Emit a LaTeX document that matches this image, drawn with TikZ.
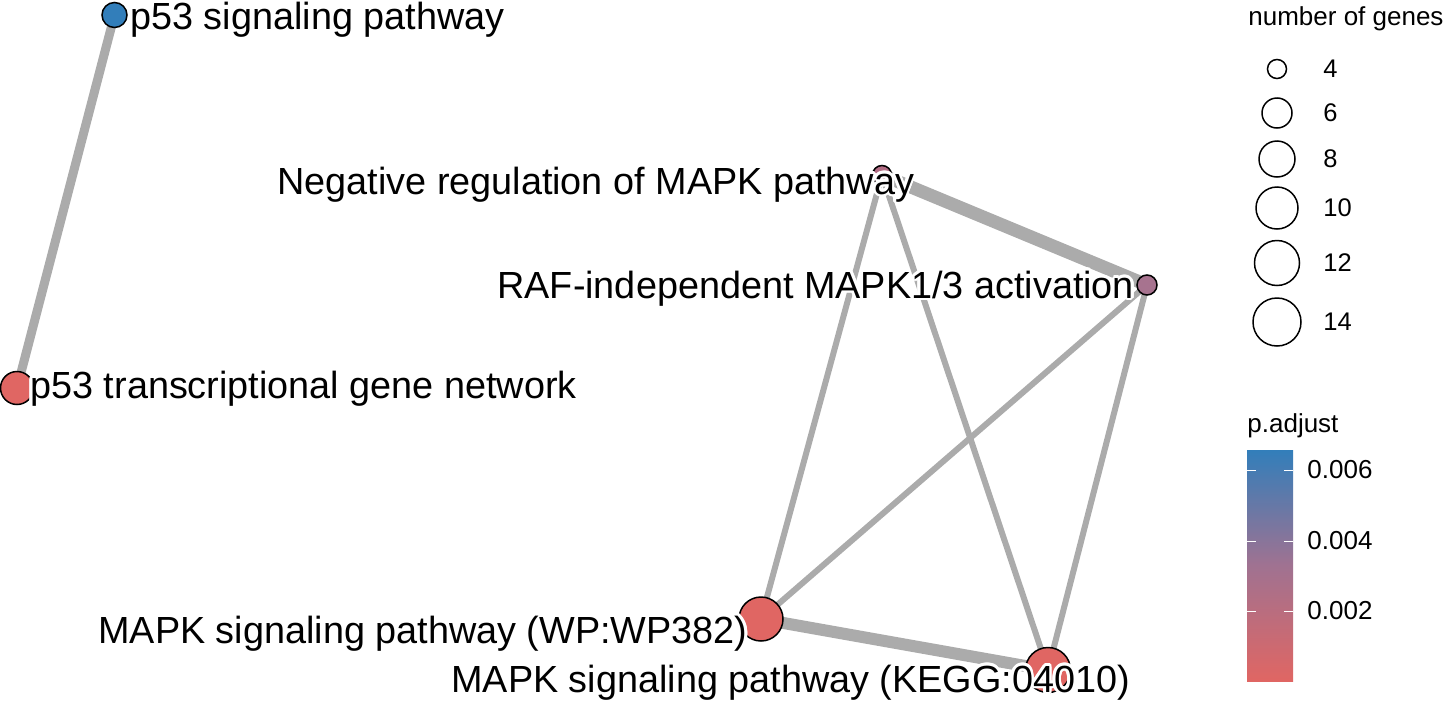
\documentclass[tikz,border=0pt]{standalone}
\usepackage{fontspec}
\setmainfont{Liberation Sans}
\usepackage{contour}
\contourlength{1.3pt}
\usetikzlibrary{positioning}
\definecolor{padjlow}{RGB}{224,102,99}
\definecolor{padjmid}{RGB}{160,114,145}
\definecolor{padjhigh}{RGB}{50,126,186}
\definecolor{negcol}{RGB}{178,108,132}
\definecolor{rafcol}{RGB}{167,115,143}
\definecolor{edgegray}{RGB}{171,171,171}
\pgfdeclarelayer{edges}
\pgfsetlayers{edges,main}

\begin{document}
\begin{tikzpicture}[x=0.5pt,y=-0.5pt,
    term/.style={circle,draw=black,line width=0.75pt,inner sep=0pt,minimum size=#1},
    link/.style={edgegray,line width=#1},
    termlabel/.style={anchor=base west,inner sep=0pt,font=\fontsize{18.9}{20}\selectfont},
    legtext/.style={inner sep=0pt,font=\fontsize{12.75}{14}\selectfont}]
      \useasboundingbox (0,0) rectangle (1447,702);
      % enriched terms
      \node[term=12.5pt,fill=padjhigh] (p53sig) at (114.5,15) {};
      \node[term=16.5pt,fill=padjlow] (p53net) at (17,388) {};
      \node[term=9.5pt,fill=negcol] (negmapk) at (882,175) {};
      \node[term=10pt,fill=rafcol] (rafmapk) at (1147,285) {};
      \node[term=22pt,fill=padjlow] (wpmapk) at (761,619) {};
      \node[term=22.5pt,fill=padjlow] (keggmapk) at (1048,670) {};
      % shared genes
      \begin{pgfonlayer}{edges}
        \draw[link=4.5pt] (p53sig.center) -- (p53net.center);
        \draw[link=6.5pt] (negmapk.center) -- (rafmapk.center);
        \draw[link=6pt] (wpmapk.center) -- (keggmapk.center);
        \foreach \a/\b in {negmapk/wpmapk,negmapk/keggmapk,rafmapk/wpmapk,rafmapk/keggmapk} {
          \draw[link=3pt] (\a.center) -- (\b.center);
        }
      \end{pgfonlayer}
      % labels
      \node[termlabel] (lp53sig) at (130,29) {\contour{white}{p53 signaling pathway}};
      \node[termlabel] (lp53net) at (30,398) {\contour{white}{p53 transcriptional gene network}};
      \node[termlabel] (lneg) at (277,194) {\contour{white}{Negative regulation of MAPK pathway}};
      \node[termlabel] (lraf) at (497,298) {\contour{white}{RAF-independent MAPK1/3 activation}};
      \node[termlabel] (lwp) at (98,643) {\contour{white}{MAPK signaling pathway (WP:WP382)}};
      \node[termlabel] (lkegg) at (451,692) {\contour{white}{MAPK signaling pathway (KEGG:04010)}};
      % size legend
      \node[legtext,anchor=base west,font=\fontsize{13}{14}\selectfont] (sizetitle) at (1248,25) {number of genes};
      \foreach \n/\y/\d in {4/69/9.5pt,6/113/15pt,8/159/18pt,10/208/21pt,12/263/22.5pt,14/322/24pt} {
        \node[circle,draw=black,line width=0.75pt,inner sep=0pt,minimum size=\d] (size\n) at (1277,\y) {};
        \node[legtext,anchor=west] (sizelab\n) at (1323,\y) {\n};
      }
      % colour legend
      \node[legtext,anchor=base west,font=\fontsize{13}{14}\selectfont] (coltitle) at (1247,432) {p.adjust};
      \shade[bottom color=padjlow,top color=padjhigh,middle color=padjmid] (1247,450) rectangle (1293,681);
      \foreach \v/\y in {0.006/470,0.004/541,0.002/611} {
        \draw[white,line width=0.5pt] (1247,\y) -- (1256,\y) (1284,\y) -- (1293,\y);
        \node[legtext,anchor=west,font=\fontsize{13}{14}\selectfont] at (1307,\y) {\v};
      }
    \end{tikzpicture}
\end{document}
